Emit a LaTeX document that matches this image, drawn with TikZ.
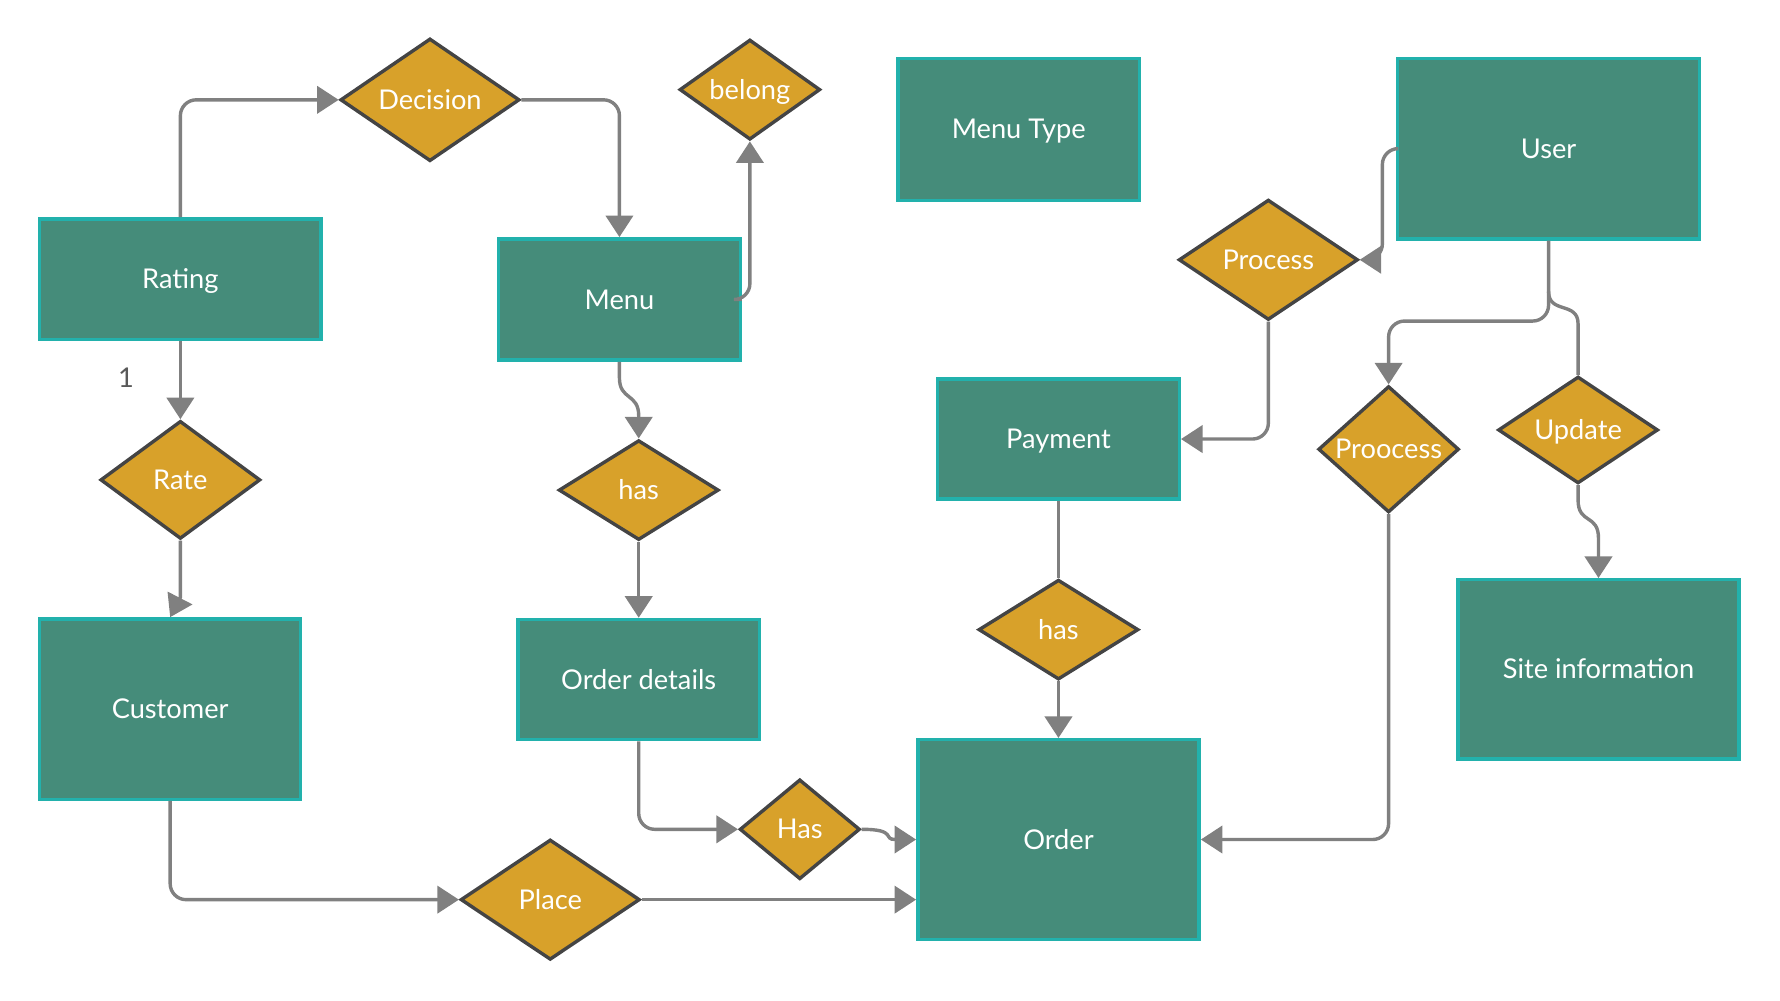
\documentclass[tikz,border=0pt]{standalone}
\usepackage{fontspec}
\setmainfont{Lato}
\usetikzlibrary{shapes.geometric}
\usetikzlibrary{arrows.meta}
\usetikzlibrary{calc}
\definecolor{verde}{HTML}{458C7A}
\definecolor{turquesa}{HTML}{22B1AC}
\definecolor{ouro}{HTML}{D8A12A}
\definecolor{borda}{HTML}{444444}
\definecolor{cinza}{HTML}{808080}
\definecolor{texto}{HTML}{595959}
\tikzset{entity/.style={draw=#1,fill=verde,line width=3pt,text=white,inner sep=0pt,text height=17pt,text depth=0pt},entity/.default=turquesa}
\tikzset{relation/.style={draw=#1,fill=ouro,diamond,aspect=1,line width=3pt,text=white,inner sep=0pt,text height=17pt,text depth=0pt},relation/.default=borda}
\tikzset{link/.style={color=#1,line width=3pt,rounded corners=14pt},link/.default=cinza}
\tikzset{seta/.style={-{Triangle[length=19pt,width=24pt]}}}

\begin{document}
\begin{tikzpicture}[x=1pt,y=-1pt,font=\fontsize{24}{28}\selectfont]
	\useasboundingbox (0,0) rectangle (1569,882);

	% Entidades
	\node [entity,minimum width=248pt,minimum height=106pt] (rating) at (159,246) {Rating};
	\node [entity,minimum width=213pt,minimum height=107pt] (menu) at (546,264) {Menu};
	\node [entity,minimum width=213pt,minimum height=125pt] (menutype) at (898,114) {Menu Type};
	\node [entity,minimum width=266pt,minimum height=159pt] (user) at (1365,131) {User};
	\node [entity,minimum width=213pt,minimum height=106pt] (payment) at (933,387) {Payment};
	\node [entity,minimum width=230pt,minimum height=159pt] (customer) at (150,625) {Customer};
	\node [entity,minimum width=213pt,minimum height=106pt] (details) at (563,599) {Order details};
	\node [entity,minimum width=248pt,minimum height=176pt] (order) at (933,740) {Order};
	\node [entity,minimum width=248pt,minimum height=158pt] (site) at (1409,590) {Site information};

	% Relacionamentos
	\node [relation,minimum width=158pt,minimum height=106pt] (decision) at (379,88) {Decision};
	\node [relation,minimum width=124pt,minimum height=88pt] (belong) at (661,79) {belong};
	\node [relation,minimum width=141pt,minimum height=104pt] (rate) at (159,423) {Rate};
	\node [relation,minimum width=141pt,minimum height=88pt] (hasmenu) at (563,432) {has};
	\node [relation,minimum width=158pt,minimum height=106pt] (process) at (1118,229) {Process};
	\node [relation,minimum width=124pt,minimum height=88pt] (proocess) at (1224,396) {Proocess};
	\node [relation,minimum width=141pt,minimum height=88pt] (update) at (1391,379) {Update};
	\node [relation,minimum width=141pt,minimum height=88pt] (haspayment) at (933,555) {has};
	\node [relation,minimum width=106pt,minimum height=88pt] (hasdetails) at (705,731) {Has};
	\node [relation,minimum width=158pt,minimum height=106pt] (place) at (485,793) {Place};

	% Cardinalidade
	\node [text=texto] (um) at (111,333) {1};

	% Ligações
	\draw [link,seta] (rating.north) |- (decision.west);
	\draw [link,seta] (decision.east) -| (menu.north);
	\draw [link,seta] (menu.east) -| (belong.south);
	\draw [link,seta] (rating.south) -- (rate.north);
	\draw [link,seta,sharp corners] (rate.south) -- ($(rate.south)+(0,50)$) -- (customer.north);
	\draw [link,seta,sharp corners] (menu.south) -- ++(0,14) .. controls +(0,20) and +(0,-20) .. ($(hasmenu.north)+(0,-20)$) -- (hasmenu.north);
	\draw [link,seta] (hasmenu.south) -- (details.north);
	\draw [link,seta] (details.south) |- (hasdetails.west);
	\draw [link,seta,sharp corners] (hasdetails.east) .. controls +(32,0) and +(-30,0) .. (order.west);
	\draw [link,seta] (customer.south) |- (place.west);
	\draw [link,seta] (place.east) -- (order.west |- place.east);
	\draw [link] (payment.south) -- (haspayment.north);
	\draw [link,seta] (haspayment.south) -- (order.north);
	\draw [link,seta] (user.west) -| ($(process.east)+(20,0)$) -- (process.east);
	\draw [link,seta] (process.south) |- (payment.east);
	\draw [link,seta] (user.south) -- ++(0,71) -| (proocess.north);
	\draw [link,sharp corners] ($(user.south)+(0,45)$) .. controls +(0,20) and +(0,-20) .. ($(update.north)+(0,-45)$) -- (update.north);
	\draw [link,seta,sharp corners] (update.south) -- ++(0,13) .. controls +(0,22) and +(0,-22) .. ($(site.north)+(0,-35)$) -- (site.north);
	\draw [link,seta] (proocess.south) |- (order.east);

\end{tikzpicture}
\end{document}
